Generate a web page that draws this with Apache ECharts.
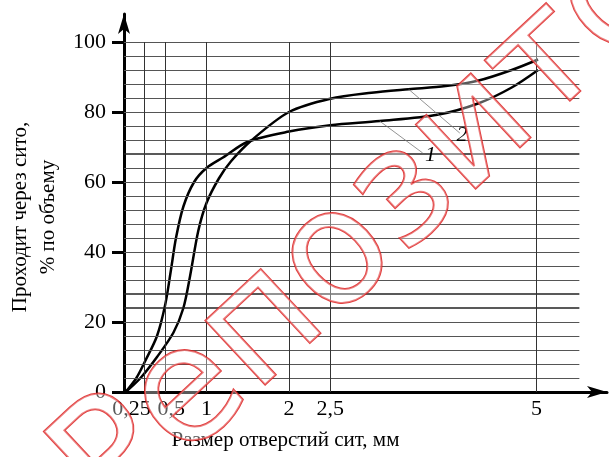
<!DOCTYPE html>
<html>
<head>
<meta charset="utf-8">
<script src="https://cdn.jsdelivr.net/npm/echarts@6/dist/echarts.min.js"></script>
<style>
  html, body { margin: 0; padding: 0; background: #fff; }
  #main { width: 609px; height: 457px; }
</style>
</head>
<body>
<div id="main"></div>
<script>
// size of sieve openings, mm / passing, %
var curve1 = [
  [0.02, 0], [0.15, 4], [0.26, 9], [0.4, 16], [0.5, 25], [0.57, 35],
  [0.63, 44], [0.72, 53], [0.85, 60], [1.0, 64], [1.2, 67], [1.5, 71.5],
  [2.0, 74.4], [2.5, 76.2], [3.1, 77.4], [3.8, 79.2], [4.3, 82.5],
  [4.7, 87], [5.02, 92]
];
var curve2 = [
  [0.02, 0], [0.2, 4], [0.4, 10], [0.6, 17], [0.72, 24], [0.8, 33],
  [0.9, 46], [1.0, 54], [1.15, 61], [1.3, 66], [1.55, 72], [2.0, 80],
  [2.5, 83.8], [3.0, 85.5], [3.45, 86.5], [3.9, 87.4], [4.3, 89],
  [4.7, 92], [5.02, 95]
];
var xTicks = [0.25, 0.5, 1, 2, 2.5, 5];
var yTicks = [0, 20, 40, 60, 80, 100];
var yGrid = [4, 8, 12, 16, 20, 24, 28, 32, 36, 40, 44, 48, 52, 56, 60, 64, 68,
             72, 76, 80, 84, 88, 92, 96, 100];
var yGridBold = [24, 28, 68];
var gridRight = 5.52;
// leader lines: [point on curve, label end]
var leader1 = [[3.1, 77.4], [3.62, 68.3]];
var leader2 = [[3.45, 86.5], [4.07, 74]];

var gridLines = [];
yGrid.forEach(function (v) {
  var bold = yGridBold.indexOf(v) >= 0;
  gridLines.push([
    { coord: [0, v], lineStyle: { color: bold ? '#222' : '#555', width: bold ? 1.6 : 1, type: 'solid' } },
    { coord: [gridRight, v] }
  ]);
});
xTicks.forEach(function (v) {
  gridLines.push([
    { coord: [v, 0], lineStyle: { color: '#333', width: 1, type: 'solid' } },
    { coord: [v, 100] }
  ]);
});

function comma(v) { return String(v).replace('.', ','); }

var font = 'Liberation Serif';
var chart = echarts.init(document.getElementById('main'));
chart.setOption({
  animation: false,
  grid: { left: 124, right: 2, top: 14, bottom: 65, containLabel: false, outerBoundsMode: 'none' },
  xAxis: {
    type: 'value',
    min: 0,
    max: 5.855,
    name: 'Размер отверстий сит, мм',
    nameLocation: 'middle',
    nameGap: 38,
    nameTextStyle: { fontFamily: font, fontSize: 21, color: '#000', padding: [0, 160, 0, 0] },
    axisLine: { lineStyle: { color: '#000', width: 3 }, symbol: ['none', 'arrow'], symbolSize: [9, 20] },
    axisTick: { show: false },
    splitLine: { show: false },
    axisLabel: {
      customValues: xTicks,
      margin: 6,
      fontFamily: font, fontSize: 22, color: '#000',
      formatter: function (v) {
        if (v === 0.25) return '{a|0,25}';
        if (v === 0.5) return '{b|0,5}';
        return comma(v);
      },
      rich: {
        a: { fontFamily: font, fontSize: 22, color: '#000', padding: [0, 26, 0, 0] },
        b: { fontFamily: font, fontSize: 22, color: '#000', padding: [0, 0, 0, 12] }
      }
    }
  },
  yAxis: {
    type: 'value',
    min: 0,
    max: 108,
    name: 'Проходит через сито,\n% по объему',
    nameLocation: 'middle',
    nameGap: 60,
    nameTextStyle: { fontFamily: font, fontSize: 21, color: '#000', lineHeight: 28, padding: [0, 28, 0, 0] },
    axisLine: { lineStyle: { color: '#000', width: 3 }, symbol: ['none', 'arrow'], symbolSize: [9, 20] },
    axisTick: { customValues: yTicks, length: 12, lineStyle: { color: '#000', width: 3 } },
    splitLine: { show: false },
    axisLabel: { customValues: yTicks, margin: 18, fontFamily: font, fontSize: 22, color: '#000' }
  },
  graphic: [{
    type: 'text',
    x: 368, y: 232,
    rotation: 43 * Math.PI / 180,
    z: 100,
    silent: true,
    style: {
      text: 'Репозито',
      font: '160px "DejaVu Sans"',
      align: 'center',
      verticalAlign: 'middle',
      fill: 'rgba(255,255,255,0.35)',
      stroke: 'rgba(220,30,30,0.85)',
      lineWidth: 2
    }
  }],
  series: [
    {
      type: 'line',
      data: [],
      z: 1,
      silent: true,
      markLine: {
        silent: true, symbol: ['none', 'none'], label: { show: false },
        lineStyle: { type: 'solid' }, data: gridLines
      }
    },
    {
      name: '1',
      type: 'line',
      data: curve1,
      z: 3,
      smooth: 0.3,
      symbol: 'none',
      lineStyle: { color: '#000', width: 2.5 },
      markLine: {
        silent: true,
        symbol: ['none', 'none'],
        lineStyle: { color: '#777', width: 0.8, type: 'solid' },
        label: { show: true, position: 'end', formatter: '1', distance: 3,
                 fontFamily: font, fontSize: 22, fontStyle: 'italic', color: '#000' },
        data: [[{ coord: leader1[0] }, { coord: leader1[1] }]]
      }
    },
    {
      name: '2',
      type: 'line',
      data: curve2,
      z: 3,
      smooth: 0.3,
      symbol: 'none',
      lineStyle: { color: '#000', width: 2.5 },
      markLine: {
        silent: true,
        symbol: ['none', 'none'],
        lineStyle: { color: '#777', width: 0.8, type: 'solid' },
        label: { show: true, position: 'end', formatter: '2', distance: 3,
                 fontFamily: font, fontSize: 22, fontStyle: 'italic', color: '#000' },
        data: [[{ coord: leader2[0] }, { coord: leader2[1] }]]
      }
    }
  ]
});
</script>
</body>
</html>
